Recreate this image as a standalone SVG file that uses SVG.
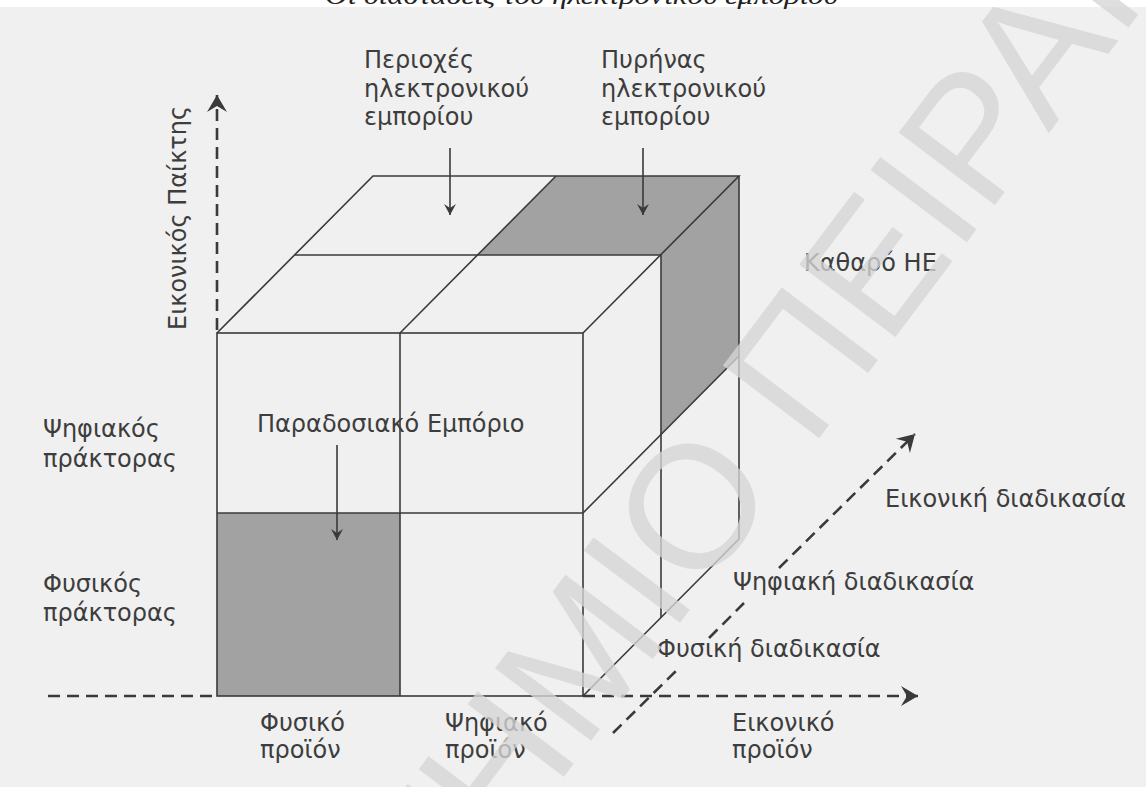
<svg xmlns="http://www.w3.org/2000/svg" width="1146" height="787" viewBox="0 0 1146 787">
  <style>
    .lbl { font-family: "DejaVu Sans", "Liberation Sans", sans-serif; font-size: 24px; fill: #3d3d3d; }
    .edge { fill: none; stroke: #3a3a3a; stroke-width: 1.6; }
    .shade { fill: #a2a2a2; stroke: none; }
    .axis { fill: none; stroke: #3a3a3a; stroke-width: 2.6; stroke-dasharray: 12 7; }
    .ptr { fill: none; stroke: #3a3a3a; stroke-width: 1.6; }
    .title { font-family: "Liberation Serif", serif; font-style: italic; font-size: 25px; fill: #222; }
    .wm { font-family: "Liberation Sans", sans-serif; font-size: 175px; fill: #d6d6d6; opacity: 0.78; }
  </style>
  <defs>
    <marker id="axisHead" markerUnits="userSpaceOnUse" markerWidth="24" markerHeight="24" viewBox="-18 -12 20 24" refX="0" refY="0" orient="auto">
      <path d="M0,0 L-17,-10 L-11,0 L-17,10 Z" fill="#3a3a3a"/>
    </marker>
    <marker id="ptrHead" markerUnits="userSpaceOnUse" markerWidth="16" markerHeight="16" viewBox="-12 -8 14 16" refX="0" refY="0" orient="auto">
      <path d="M0,0 L-11,-6 L-7,0 L-11,6 Z" fill="#3a3a3a"/>
    </marker>
  </defs>

  <!-- page -->
  <rect x="0" y="0" width="1146" height="787" fill="#f0f0f0"/>
  <rect x="0" y="0" width="1146" height="7" fill="#ffffff"/>
  <text class="title" x="325" y="4" textLength="513" lengthAdjust="spacingAndGlyphs">Οι διαστάσεις του ηλεκτρονικού εμπορίου</text>

  <!-- shaded cells -->
  <g id="cell-traditional">
    <rect class="shade" x="217" y="513" width="183" height="183"/>
  </g>
  <g id="cell-pure-ec">
    <polygon class="shade" points="478,255 661,255 661,434 739,356 739,176 556,176"/>
  </g>

  <!-- cube -->
  <g id="cube">
    <!-- front face -->
    <rect class="edge" x="217" y="333" width="366" height="363"/>
    <line class="edge" x1="400" y1="333" x2="400" y2="696"/>
    <line class="edge" x1="217" y1="513" x2="583" y2="513"/>
    <!-- top face -->
    <polyline class="edge" points="217,333 373,176 739,176 583,333"/>
    <line class="edge" x1="295" y1="255" x2="661" y2="255"/>
    <line class="edge" x1="400" y1="333" x2="556" y2="176"/>
    <!-- right face -->
    <polyline class="edge" points="739,176 739,539 583,696"/>
    <line class="edge" x1="661" y1="255" x2="661" y2="618"/>
    <line class="edge" x1="583" y1="513" x2="739" y2="356"/>
  </g>

  <!-- axes and pointers -->
  <g id="connectors">
    <line class="axis" x1="217" y1="330" x2="217" y2="95" marker-end="url(#axisHead)"/>
    <line class="axis" x1="48" y1="696" x2="217" y2="696"/>
    <line class="axis" x1="583" y1="696" x2="918" y2="696" marker-end="url(#axisHead)"/>
    <line class="axis" x1="613" y1="733" x2="677" y2="670"/>
    <line class="axis" x1="709" y1="638" x2="744" y2="603"/>
    <line class="axis" x1="779" y1="568" x2="915" y2="434" marker-end="url(#axisHead)"/>
    <line class="ptr" x1="450" y1="148" x2="450" y2="215" marker-end="url(#ptrHead)"/>
    <line class="ptr" x1="643" y1="148" x2="643" y2="215" marker-end="url(#ptrHead)"/>
    <line class="ptr" x1="337" y1="445" x2="337" y2="540" marker-end="url(#ptrHead)"/>
  </g>

  <!-- labels -->
  <g id="label-areas">
    <text class="lbl" x="364" y="68">Περιοχές</text>
    <text class="lbl" x="364" y="97">ηλεκτρονικού</text>
    <text class="lbl" x="364" y="125">εμπορίου</text>
  </g>
  <g id="label-core">
    <text class="lbl" x="601" y="68">Πυρήνας</text>
    <text class="lbl" x="601" y="97">ηλεκτρονικού</text>
    <text class="lbl" x="601" y="125">εμπορίου</text>
  </g>
  <g id="label-pure">
    <text class="lbl" x="804" y="271">Καθαρό ΗΕ</text>
  </g>
  <g id="label-player-axis">
    <text class="lbl" transform="translate(186,218) rotate(-90)" text-anchor="middle">Εικονικός Παίκτης</text>
  </g>
  <g id="label-digital-agent">
    <text class="lbl" x="43" y="437">Ψηφιακός</text>
    <text class="lbl" x="43" y="467">πράκτορας</text>
  </g>
  <g id="label-physical-agent">
    <text class="lbl" x="43" y="592">Φυσικός</text>
    <text class="lbl" x="43" y="621">πράκτορας</text>
  </g>
  <g id="label-traditional">
    <text class="lbl" x="257" y="432">Παραδοσιακό Εμπόριο</text>
  </g>
  <g id="label-physical-product">
    <text class="lbl" x="260" y="731">Φυσικό</text>
    <text class="lbl" x="260" y="758">προϊόν</text>
  </g>
  <g id="label-digital-product">
    <text class="lbl" x="445" y="731">Ψηφιακό</text>
    <text class="lbl" x="445" y="758">προϊόν</text>
  </g>
  <g id="label-virtual-product">
    <text class="lbl" x="732" y="731">Εικονικό</text>
    <text class="lbl" x="732" y="758">προϊόν</text>
  </g>
  <g id="label-processes">
    <text class="lbl" x="657" y="657">Φυσική διαδικασία</text>
    <text class="lbl" x="733" y="590">Ψηφιακή διαδικασία</text>
    <text class="lbl" x="885" y="507">Εικονική διαδικασία</text>
  </g>

  <!-- watermark -->
  <text class="wm" transform="translate(-21,1553) rotate(-53)">ΠΑΝΕΠΙΣΤΗΜΙΟ ΠΕΙΡΑΙΩΣ</text>
</svg>
